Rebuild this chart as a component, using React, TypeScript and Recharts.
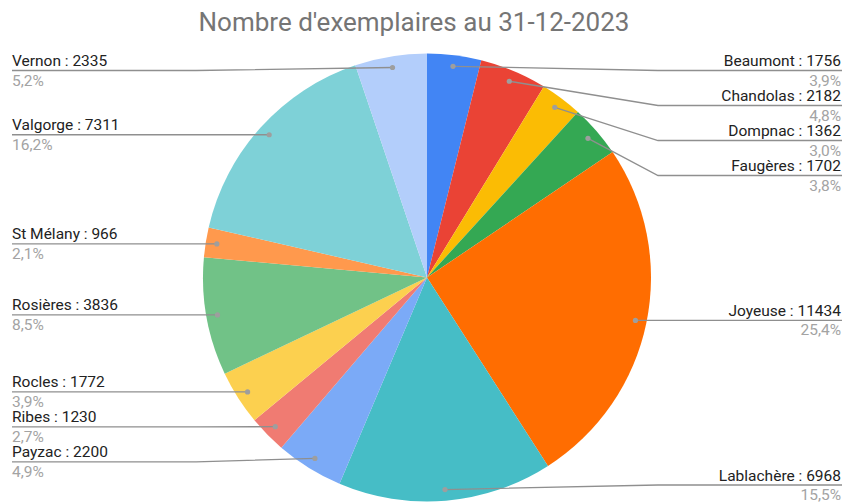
import React from 'react';
import { PieChart, Pie, Cell } from 'recharts';

const communes = ['Beaumont', 'Chandolas', 'Dompnac', 'Faugères', 'Joyeuse', 'Lablachère', 'Payzac', 'Ribes', 'Rocles', 'Rosières', 'St Mélany', 'Valgorge', 'Vernon'];
const exemplaires = [1756, 2182, 1362, 1702, 11434, 6968, 2200, 1230, 1772, 3836, 966, 7311, 2335];
const colors = ['#4285F4', '#EA4335', '#FBBC04', '#34A853', '#FF6D01', '#46BDC6', '#7BAAF7', '#F07B72', '#FCD04F', '#71C287', '#FF994D', '#7ED1D7', '#B3CEFB'];
const title = "Nombre d'exemplaires au 31-12-2023";

const data = communes.map((name, i) => ({ name, value: exemplaires[i] }));
const total = exemplaires.reduce((a, b) => a + b, 0);

const W = 845;
const H = 503;
const CX = 427;
const CY = 277.5;
const R = 224;
const START = 90;
const END = -270;
const DOT_R = 0.95;
const GAP = 35;
const MIN_Y = 70.5;
const MAX_Y = 485;
const FONT = 'Roboto, Arial, sans-serif';

const RAD = Math.PI / 180;

// compute label layout from data (same angles as the Pie)
function computeLayout(cx: number, cy: number, r: number) {
  let acc = 0;
  const items = data.map((d, i) => {
    const a0 = START - (acc / total) * 360;
    acc += d.value;
    const a1 = START - (acc / total) * 360;
    const mid = (a0 + a1) / 2;
    const x = cx + r * DOT_R * Math.cos(-mid * RAD);
    const y = cy + r * DOT_R * Math.sin(-mid * RAD);
    return { i, x, y, right: Math.cos(-mid * RAD) >= 0, ly: y };
  });
  const sides = [items.filter((it) => it.right), items.filter((it) => !it.right)];
  sides.forEach((side) => {
    side.sort((a, b) => a.y - b.y);
    let prev = -Infinity;
    side.forEach((it) => {
      it.ly = Math.max(it.y, MIN_Y, prev + GAP);
      prev = it.ly;
    });
    let next = Infinity;
    for (let k = side.length - 1; k >= 0; k--) {
      side[k].ly = Math.min(side[k].ly, MAX_Y, next - GAP);
      next = side[k].ly;
    }
  });
  const out: Record<number, { x: number; y: number; ly: number; right: boolean }> = {};
  items.forEach((it) => (out[it.i] = it));
  return out;
}

const renderLabel = (props: any) => {
  const { cx, cy, outerRadius, midAngle, index, name, value } = props;
  const layout = computeLayout(cx, cy, outerRadius);
  const L = layout[index];
  const dx = cx + outerRadius * DOT_R * Math.cos(-midAngle * RAD);
  const dy = cy + outerRadius * DOT_R * Math.sin(-midAngle * RAD);
  const right = L.right;
  const bendX = right ? cx + outerRadius + 7 : cx - outerRadius - 7;
  const endX = right ? 842 : 12;
  const textX = right ? 841 : 12;
  const anchor = right ? 'end' : 'start';
  const pct = ((value / total) * 100).toFixed(1).replace('.', ',') + '%';
  return (
    <g key={`lbl-${index}`}>
      <polyline
        points={`${dx},${dy} ${bendX},${L.ly} ${endX},${L.ly}`}
        fill="none"
        stroke="#8f8f8f"
        strokeWidth={1.3}
      />
      <circle cx={dx} cy={dy} r={2.6} fill="#9e9e9e" />
      <text x={textX} y={L.ly - 4.5} textAnchor={anchor} fontFamily={FONT} fontSize={15.5} fill="#222222">
        {`${name} : ${value}`}
      </text>
      <text x={textX} y={L.ly + 15} textAnchor={anchor} fontFamily={FONT} fontSize={15.5} fill="#a3a3a3">
        {pct}
      </text>
    </g>
  );
};

export default function App() {
  return (
    <div style={{ position: 'absolute', left: 0, top: 0, width: W, height: H, background: '#ffffff' }}>
      <PieChart width={W} height={H} margin={{ top: 0, right: 0, bottom: 0, left: 0 }}>
        <Pie
          data={data}
          dataKey="value"
          nameKey="name"
          cx={CX}
          cy={CY}
          outerRadius={R}
          startAngle={START}
          endAngle={END}
          stroke="none"
          label={renderLabel}
          labelLine={false}
          isAnimationActive={false}
        >
          {data.map((d, i) => (
            <Cell key={d.name} fill={colors[i]} />
          ))}
        </Pie>
      </PieChart>
      <svg width={W} height={45} style={{ position: 'absolute', left: 0, top: 0, pointerEvents: 'none' }}>
        <text x={414} y={31} textAnchor="middle" fontFamily={FONT} fontSize={26} fill="#757575">
          {title}
        </text>
      </svg>
    </div>
  );
}
